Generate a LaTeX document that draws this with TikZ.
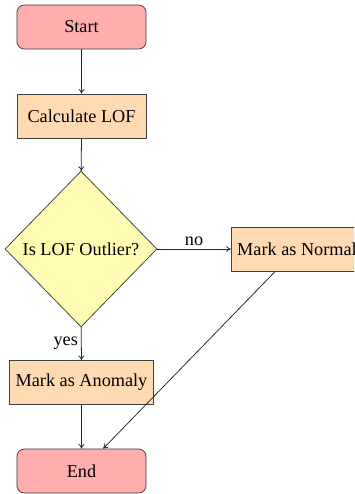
\documentclass[tikz,border=0pt]{standalone}
\usepackage{fontspec}
\setmainfont{Liberation Serif}
\usetikzlibrary{shapes.geometric,arrows.meta}
\begin{document}
\begin{tikzpicture}[x=0.6579pt,y=-0.6579pt,
  base/.style={draw=black!75,line width=0.5pt,font=\fontsize{12}{14.4}\selectfont,inner sep=4pt,text=black},
  termbox/.style={base,rectangle,rounded corners=5pt,fill=red!32,minimum width=85pt,minimum height=29pt},
  procbox/.style={base,rectangle,fill=orange!30,minimum width=85pt,minimum height=29pt},
  decbox/.style={base,diamond,fill=yellow!30,inner sep=2pt,minimum width=100pt,minimum height=102.6pt},
  conn/.style={draw=black!85,line width=0.5pt,-{To[length=3pt,width=4pt]}},
  lbl/.style={font=\fontsize{12}{14.4}\selectfont,inner sep=2pt}]
\clip (0,0) rectangle (354,494);
\fill[white] (0,0) rectangle (354,494);
\node[termbox] (start) at (81.5,27) {Start};
\node[procbox] (calc) at (81.5,116) {Calculate LOF};
\node[decbox] (dec) at (81,249) {Is LOF Outlier?};
\node[procbox] (normal) at (297,249) {Mark as Normal};
\node[procbox] (anom) at (81.5,382.5) {Mark as Anomaly};
\node[termbox] (end) at (81.5,471) {End};
\draw[conn] (start) -- (calc);
\draw[conn] (calc) -- (dec);
\draw[conn] (dec) -- node[lbl,above] {no} (normal);
\draw[conn] (dec) -- node[lbl,left] {yes} (anom);
\draw[conn] (anom) -- (end);
\draw[conn] (normal) -- (end);
\end{tikzpicture}
\end{document}
